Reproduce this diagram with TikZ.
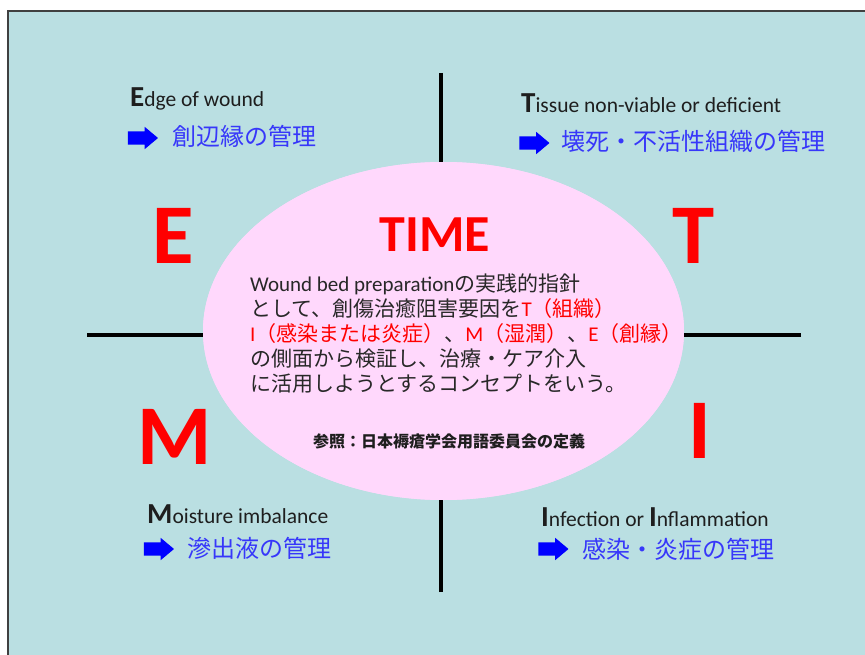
\documentclass[tikz,border=0pt]{standalone}
\usepackage{fontspec}
\setmainfont{Carlito}
\newfontfamily\jp{Noto Sans CJK JP}
\usetikzlibrary{shapes.geometric,shapes.arrows}
\definecolor{bgteal}{RGB}{186,223,226}
\definecolor{pinkfill}{RGB}{255,216,252}
\definecolor{labelblue}{RGB}{55,55,250}
\definecolor{arrowblue}{RGB}{0,0,255}
\definecolor{txtdark}{RGB}{30,30,30}
\definecolor{bodytxt}{RGB}{40,40,40}
\definecolor{bigred}{RGB}{255,0,0}
\begin{document}
\begin{tikzpicture}[x=1pt,y=-1pt,
  axisline/.style={line width=4pt,black},
  bigletter/.style={font=\fontsize{85}{90}\selectfont\bfseries,text=bigred,inner sep=0pt,anchor=base},
  engl/.style={font=\fontsize{21.5}{24}\selectfont,text=txtdark,inner sep=0pt,anchor=base west},
  jlabel/.style={font=\fontsize{24}{28}\selectfont\jp,text=labelblue,inner sep=0pt,anchor=base west},
  bodyline/.style={font=\fontsize{21}{25}\selectfont,text=bodytxt,inner sep=0pt,anchor=base west},
  ellfill/.style={ellipse,fill=pinkfill,minimum width=481pt,minimum height=338pt,inner sep=0pt},
  barrow/.style={single arrow,fill=arrowblue,draw=none,inner sep=0pt,text height=6.5pt,text depth=6.5pt,text width=0pt,minimum height=30pt,single arrow head extend=4.5pt,single arrow tip angle=80}]
\newcommand{\initcap}[1]{{\fontsize{29}{30}\selectfont\bfseries #1}}
\useasboundingbox (0,0) rectangle (865,655);
\fill[white] (0,0) rectangle (865,655);
\draw[fill=bgteal,draw=black!75,line width=1.2pt] (8,11) rectangle (880,670);
% ellipse (for anchors)
\node[ellfill] (ell) at (443.5,331) {};
% axis lines
\coordinate (vt) at (441,73);
\coordinate (vb) at (441,592);
\coordinate (hl) at (87,335);
\coordinate (hr) at (801,335);
\draw[axisline] (vt) -- (vt |- ell.north);
\draw[axisline] (vb) -- (vb |- ell.south);
\draw[axisline] (hl) -- (205,335);
\draw[axisline] (hr) -- (682,335);
% ellipse over line ends
\node[ellfill] (ellc) at (443.5,331) {};
% big letters
\node[bigletter] (bE) at (173.5,263) {E};
\node[bigletter] (bT) at (693.5,263) {T};
\node[bigletter] (bM) at (174.5,464) {M};
\node[bigletter] (bI) at (699.5,458) {I};
\node[font=\fontsize{52}{56}\selectfont\bfseries,text=bigred,inner sep=0pt,anchor=base] (time) at (435,252) {TIME};
% body text
\node[bodyline] (b1) at (250,291) {Wound bed preparation{\jp の実践的指針}};
\node[bodyline] (b2) at (250,316.2) {{\jp として、創傷治癒阻害要因を}{\color{bigred}T{\jp （組織）}}};
\node[bodyline] (b3) at (250,341.4) {{\color{bigred}I{\jp （感染または炎症）}}{\jp 、}{\color{bigred}M{\jp （湿潤）}}{\jp 、}{\color{bigred}E{\jp （創縁）}}};
\node[bodyline] (b4) at (250,366.6) {\jp の側面から検証し、治療・ケア介入};
\node[bodyline] (b5) at (250,391.8) {\jp に活用しようとするコンセプトをいう。};
\node[font=\fontsize{16}{18}\selectfont\jp\bfseries,text=txtdark,inner sep=0pt,anchor=base west] (ref) at (313,447) {参照：日本褥瘡学会用語委員会の定義};
% corner labels
\node[engl] (lE) at (130,107) {\initcap{E}dge of wound};
\node[barrow] (aE) at (139,138) {};
\node[jlabel] (jE) at (172,146) {創辺縁の管理};
\node[engl] (lT) at (521,113) {\initcap{T}issue non-viable or deficient};
\node[barrow] (aT) at (530.5,143) {};
\node[jlabel] (jT) at (561,151) {壊死・不活性組織の管理};
\node[engl] (lM) at (147,523) {\initcap{M}oisture imbalance};
\node[barrow] (aM) at (155,549) {};
\node[jlabel] (jM) at (187,557) {滲出液の管理};
\node[engl] (lI) at (541,526) {\initcap{I}nfection or \initcap{I}nflammation};
\node[barrow] (aI) at (549.5,549) {};
\node[jlabel] (jI) at (582,558) {感染・炎症の管理};
\end{tikzpicture}
\end{document}
